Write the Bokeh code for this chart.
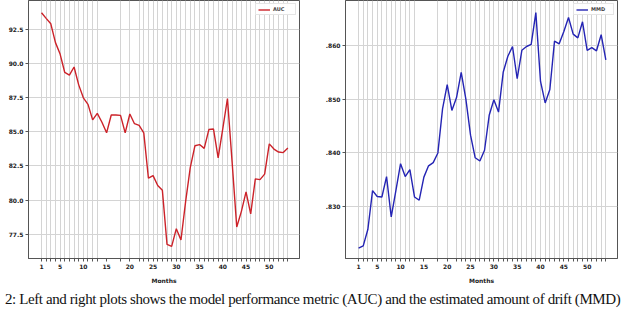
from bokeh.plotting import figure
from bokeh.models import FixedTicker, Div, ColumnDataSource
from bokeh.layouts import column, row
from bokeh.embed import file_html
from bokeh.resources import INLINE

months = list(range(1, 55))
auc = [93.74, 93.33, 92.93, 91.55, 90.71, 89.36, 89.17, 89.76, 88.45, 87.5,
       87.02, 85.88, 86.36, 85.71, 84.93, 86.24, 86.24, 86.21, 84.93, 86.31,
       85.6, 85.48, 84.93, 81.6, 81.79, 81.07, 80.71, 76.74, 76.6, 77.9,
       77.07, 79.88, 82.38, 83.98, 84.07, 83.79, 85.17, 85.21, 83.1, 85.24,
       87.45, 82.8, 78.02, 79.17, 80.6, 78.98, 81.55, 81.5, 81.9, 84.12,
       83.74, 83.52, 83.48, 83.81]
mmd = [0.8223, 0.8227, 0.8258, 0.8330, 0.8319, 0.8318, 0.8356, 0.8281, 0.8330, 0.8380,
       0.8356, 0.8369, 0.8318, 0.8312, 0.8355, 0.8376, 0.8382, 0.8400, 0.8482, 0.8527,
       0.8479, 0.8503, 0.8550, 0.8500, 0.8433, 0.8391, 0.8385, 0.8405, 0.8470, 0.8499,
       0.8476, 0.8550, 0.8580, 0.8598, 0.8538, 0.8591, 0.8598, 0.8602, 0.8661, 0.8533,
       0.8493, 0.8518, 0.8608, 0.8603, 0.8626, 0.8652, 0.8621, 0.8614, 0.8644, 0.8591,
       0.8596, 0.8590, 0.8620, 0.8573]

grid_months = list(range(1, 14)) + [18, 20] + list(range(22, 55))
x_label_months = [1, 5, 10, 15, 20, 25, 30, 35, 40, 45, 50]
auc_ticks = [77.5, 80.0, 82.5, 85.0, 87.5, 90.0, 92.5]
auc_tick_labels = ["77.5", "80.0", "82.5", "85.0", "87.5", "90.0", "92.5"]
mmd_ticks = [0.83, 0.84, 0.85, 0.86]
mmd_tick_labels = [".830", ".840", ".850", ".860"]
caption = ("2: Left and right plots shows the model performance metric (AUC) "
           "and the estimated amount of drift (MMD)")

src = ColumnDataSource(dict(month=months, auc=auc, mmd=mmd))

FONT = "DejaVu Sans"


def style(p, yticks, ylabels):
    x_ticks = sorted(set(grid_months) | set(x_label_months))
    p.xaxis.ticker = FixedTicker(ticks=x_ticks)
    p.xaxis.major_label_overrides = {m: (str(m) if m in x_label_months else "") for m in x_ticks}
    p.xgrid.ticker = FixedTicker(ticks=grid_months)
    p.yaxis.ticker = FixedTicker(ticks=yticks)
    p.yaxis.major_label_overrides = {t: l for t, l in zip(yticks, ylabels)}
    for ax in (p.xaxis[0], p.yaxis[0]):
        ax.major_label_text_font_size = "6px"
        ax.major_label_text_font = FONT
        ax.major_label_text_color = "#222222"
        ax.major_label_text_font_style = "bold"
        ax.axis_line_color = "#555555"
        ax.major_tick_line_color = "#555555"
        ax.major_tick_out = 3
        ax.major_tick_in = 0
        ax.minor_tick_line_color = None
        ax.major_label_standoff = 2
    p.xaxis.axis_label = "Months"
    p.xaxis.axis_label_text_font_size = "6px"
    p.xaxis.axis_label_text_font = FONT
    p.xaxis.axis_label_text_font_style = "bold"
    p.xaxis.axis_label_text_color = "#222222"
    p.xaxis.axis_label_standoff = 5
    p.xgrid.grid_line_color = "#d4d4d4"
    p.ygrid.grid_line_color = "#d4d4d4"
    p.xgrid.grid_line_width = 1
    p.ygrid.grid_line_width = 1
    p.outline_line_color = "#555555"
    p.outline_line_width = 1
    p.legend.location = "top_right"
    p.legend.label_text_font_size = "5px"
    p.legend.label_text_font = FONT
    p.legend.label_text_font_style = "bold"
    p.legend.glyph_width = 12
    p.legend.glyph_height = 5
    p.legend.padding = 2
    p.legend.spacing = 0
    p.legend.margin = 3
    p.legend.label_standoff = 3
    p.legend.label_height = 5
    p.legend.border_line_color = "#cccccc"
    p.legend.border_line_width = 1


p1 = figure(width=314, height=286, output_backend="svg", toolbar_location=None,
            x_range=(-1.8, 56.5), y_range=(75.71, 94.64),
            min_border_left=28, min_border_right=15, min_border_top=0, min_border_bottom=0)
p1.line("month", "auc", source=src, line_color="#cc2229", line_width=1.4, legend_label="AUC")
style(p1, auc_ticks, auc_tick_labels)

p2 = figure(width=310, height=286, output_backend="svg", toolbar_location=None,
            x_range=(-1.8, 56.5), y_range=(0.82036, 0.86836),
            min_border_left=31, min_border_right=7, min_border_top=0, min_border_bottom=0)
p2.line("month", "mmd", source=src, line_color="#2424b4", line_width=1.4, legend_label="MMD")
style(p2, mmd_ticks, mmd_tick_labels)

cap = Div(text=('<div style="font-family:\'Liberation Serif\',serif;font-size:15px;'
                'line-height:17px;letter-spacing:-0.4px;white-space:nowrap;color:#111;">'
                + caption + '</div>'),
          width=624, height=18)

layout = column(row(p1, p2), cap)
open("out.html", "w").write(file_html(layout, INLINE))
